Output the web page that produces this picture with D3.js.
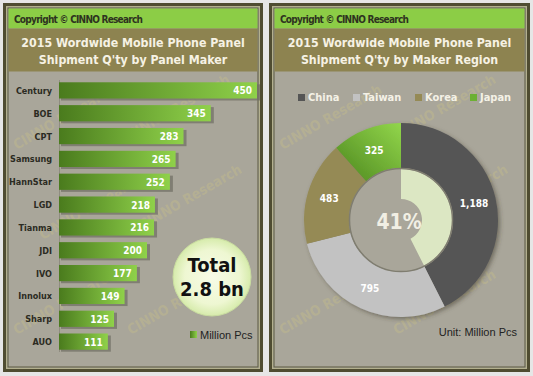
<!DOCTYPE html>
<meta charset="utf-8">
<style>
body { margin: 0; background: #e6e6e6; }
text { font-family: "DejaVu Sans Condensed", "DejaVu Sans", sans-serif; }
</style>
<body>
<script src="https://d3js.org/d3.v7.min.js"></script>
<script>

// panel makers (left chart)
var makers = ["Century", "BOE", "CPT", "Samsung", "HannStar", "LGD", "Tianma", "JDI", "IVO", "Innolux", "Sharp", "AUO"];
var shipments = [450, 345, 283, 265, 252, 218, 216, 200, 177, 149, 125, 111];

// maker regions (right chart)
var regions = ["China", "Taiwan", "Korea", "Japan"];
var regionValues = [1188, 795, 483, 325];
var centerLabel = "41%";

var width = 533, height = 376;

var svg = d3.select("body").append("svg")
  .attr("width", width).attr("height", height);

var defs = svg.append("defs");

var barGrad = defs.append("linearGradient").attr("id", "barGrad");
barGrad.append("stop").attr("offset", "0%").attr("stop-color", "#4a7b1d");
barGrad.append("stop").attr("offset", "100%").attr("stop-color", "#8fd14a");

var japanGrad = defs.append("linearGradient").attr("id", "japanGrad")
  .attr("x1", "0%").attr("y1", "100%").attr("x2", "100%").attr("y2", "0%");
japanGrad.append("stop").attr("offset", "0%").attr("stop-color", "#4c861e");
japanGrad.append("stop").attr("offset", "100%").attr("stop-color", "#92d64b");

var totalGrad = defs.append("radialGradient").attr("id", "totalGrad");
totalGrad.append("stop").attr("offset", "0%").attr("stop-color", "#f7fbe6");
totalGrad.append("stop").attr("offset", "70%").attr("stop-color", "#eef7d2");
totalGrad.append("stop").attr("offset", "100%").attr("stop-color", "#d6ebab");

var shadow = defs.append("filter").attr("id", "shadow")
  .attr("x", "-20%").attr("y", "-20%").attr("width", "140%").attr("height", "140%");
shadow.append("feDropShadow").attr("dx", 2).attr("dy", 2).attr("stdDeviation", 2)
  .attr("flood-color", "#3a382a").attr("flood-opacity", 0.5);

// frame, header, title band, body
function panel(x0, w, title1, title2) {
  var g = svg.append("g").attr("transform", "translate(" + x0 + ",0)");
  g.append("rect").attr("x", 0).attr("y", 3).attr("width", w).attr("height", 369).attr("fill", "#4f4c31");
  g.append("rect").attr("x", 3.5).attr("y", 6.5).attr("width", w - 7).attr("height", 362)
    .attr("fill", "#a9a69a").attr("stroke", "#b3b08e").attr("stroke-width", 1);
  g.append("rect").attr("x", 5).attr("y", 8).attr("width", w - 10).attr("height", 359)
    .attr("fill", "#a9a69a").attr("stroke", "#5c5a3e").attr("stroke-width", 1);
  g.append("rect").attr("x", 5.5).attr("y", 8.5).attr("width", w - 11).attr("height", 20).attr("fill", "#8ccd46");
  g.append("rect").attr("x", 5.5).attr("y", 28.5).attr("width", w - 11).attr("height", 43).attr("fill", "#8d8350");
  g.append("text").attr("x", 11).attr("y", 22.5)
    .attr("textLength", 129).attr("lengthAdjust", "spacing")
    .style("font-size", "10px").style("font-weight", "bold").attr("fill", "#2e3320")
    .text("Copyright  \u00a9  CINNO Research");
  g.append("text").attr("x", w / 2).attr("y", 47).attr("text-anchor", "middle")
    .style("font-size", "12.3px").style("font-weight", "bold").attr("fill", "#f6f2e4")
    .text(title1);
  g.append("text").attr("x", w / 2).attr("y", 64).attr("text-anchor", "middle")
    .style("font-size", "12.3px").style("font-weight", "bold").attr("fill", "#f6f2e4")
    .text(title2);
  return g;
}

var left = panel(3, 260, "2015 Wordwide Mobile Phone Panel", "Shipment Q'ty by Panel Maker");
var right = panel(269, 261, "2015 Wordwide Mobile Phone Panel", "Shipment Q'ty by Maker Region");

// faint watermarks, kept inside the body of each panel
function watermarks(x0) {
  var wm = svg.append("g");
  var spots = [[14, 150], [128, 140], [40, 240], [140, 230], [14, 335], [128, 335]];
  spots.forEach(function(p) {
    wm.append("text")
      .attr("transform", "translate(" + (x0 + p[0]) + "," + p[1] + ") rotate(-30)")
      .style("font-size", "14px").style("font-weight", "bold")
      .attr("fill", "#d6cc80").attr("opacity", 0.25)
      .text("CINNO Research");
  });
}

// ---- left: bars ----
var x = d3.scaleLinear().domain([0, 450]).range([59, 257]);
var y = d3.scaleBand().domain(makers).range([80, 352]).paddingInner(0.29).paddingOuter(0.1);

watermarks(3);

svg.append("line").attr("x1", 59.5).attr("x2", 59.5).attr("y1", 80).attr("y2", 352)
  .attr("stroke", "#8f8c80").attr("stroke-width", 1);

var bars = svg.selectAll("g.bar").data(makers).enter().append("g").attr("class", "bar");

bars.append("rect")
  .attr("x", x(0) + 2).attr("y", function(d) { return y(d) + 2; })
  .attr("width", function(d, i) { return x(shipments[i]) - x(0) + 1; })
  .attr("height", y.bandwidth())
  .attr("fill", "#6f6d62").attr("opacity", 0.7);

bars.append("rect")
  .attr("x", x(0)).attr("y", function(d) { return y(d); })
  .attr("width", function(d, i) { return x(shipments[i]) - x(0); })
  .attr("height", y.bandwidth())
  .attr("fill", "url(#barGrad)");

bars.append("text")
  .attr("x", function(d, i) { return x(shipments[i]) - 5; })
  .attr("y", function(d) { return y(d) + y.bandwidth() / 2 + 4; })
  .attr("text-anchor", "end")
  .style("font-size", "10px").style("font-weight", "bold").attr("fill", "#ffffff")
  .text(function(d, i) { return shipments[i]; });

bars.append("text")
  .attr("x", 52)
  .attr("y", function(d) { return y(d) + y.bandwidth() / 2 + 3.5; })
  .attr("text-anchor", "end")
  .style("font-size", "9px").style("font-weight", "bold").attr("fill", "#2b2b22")
  .text(function(d) { return d; });

// total bubble
svg.append("circle").attr("cx", 212).attr("cy", 277).attr("r", 39)
  .attr("fill", "url(#totalGrad)").attr("stroke", "#c9dca0").attr("stroke-width", 1);
svg.append("text").attr("x", 212).attr("y", 272).attr("text-anchor", "middle")
  .style("font-size", "20px").style("font-weight", "bold").attr("fill", "#111")
  .text("Total");
svg.append("text").attr("x", 212).attr("y", 296).attr("text-anchor", "middle")
  .style("font-size", "20px").style("font-weight", "bold").attr("fill", "#111")
  .text("2.8 bn");

svg.append("rect").attr("x", 190).attr("y", 331).attr("width", 7).attr("height", 7).attr("fill", "url(#barGrad)");
svg.append("text").attr("x", 200).attr("y", 339)
  .style("font-size", "11px").attr("fill", "#222")
  .style("font-family", "'Liberation Sans', sans-serif")
  .text("Million Pcs");

// ---- right: donut ----
watermarks(269);

var colors = d3.scaleOrdinal().domain(regions).range(["#555555", "#c2c2c2", "#958a55", "url(#japanGrad)"]);
var legendColors = d3.scaleOrdinal().domain(regions).range(["#555555", "#c2c2c2", "#958a55", "#6cb033"]);

var cx = 401, cy = 220, rOuter = 97, rInner = 52;
var pie = d3.pie().sort(null);
var arcs = pie(regionValues);
var arc = d3.arc().innerRadius(rInner).outerRadius(rOuter);

var donut = svg.append("g").attr("transform", "translate(" + cx + "," + cy + ")");
donut.append("g").attr("filter", "url(#shadow)")
  .selectAll("path").data(arcs).enter().append("path")
  .attr("d", arc)
  .attr("fill", function(d, i) { return colors(regions[i]); });

var labelArc = d3.arc().innerRadius(75).outerRadius(75);
donut.selectAll("text.val").data(arcs).enter().append("text").attr("class", "val")
  .attr("transform", function(d) { return "translate(" + labelArc.centroid(d) + ")"; })
  .attr("dy", 4).attr("text-anchor", "middle")
  .style("font-size", "10px").style("font-weight", "bold").attr("fill", "#ffffff")
  .text(function(d) { return d3.format(",")(d.value); });

// hole with inner share arc
donut.append("circle").attr("r", rInner).attr("fill", "#a9a69a");
var share = regionValues[0] / d3.sum(regionValues);
donut.append("path")
  .attr("d", d3.arc().innerRadius(21).outerRadius(rInner - 1).startAngle(0).endAngle(share * 2 * Math.PI)())
  .attr("fill", "#dce7c3");
donut.append("circle").attr("r", rInner - 0.5).attr("fill", "none")
  .attr("stroke", "#7f7d70").attr("stroke-width", 1.5);
donut.append("text").attr("x", -2).attr("y", 9).attr("text-anchor", "middle")
  .style("font-size", "21px").style("font-weight", "bold").attr("fill", "#f1efe4")
  .text(centerLabel);

// legend
var legendX = [298, 353, 415, 470];
var legend = svg.selectAll("g.leg").data(regions).enter().append("g").attr("class", "leg")
  .attr("transform", function(d, i) { return "translate(" + legendX[i] + ",95)"; });
legend.append("rect").attr("x", 0).attr("y", -1).attr("width", 7).attr("height", 7)
  .attr("fill", function(d) { return legendColors(d); });
legend.append("text").attr("x", 10).attr("y", 6)
  .style("font-size", "11px").style("font-weight", "bold").attr("fill", "#f4f1e6")
  .text(function(d) { return d; });

svg.append("text").attr("x", 517).attr("y", 336).attr("text-anchor", "end")
  .style("font-size", "11px").attr("fill", "#222")
  .style("font-family", "'Liberation Sans', sans-serif")
  .text("Unit: Million Pcs");

</script>
</body>
